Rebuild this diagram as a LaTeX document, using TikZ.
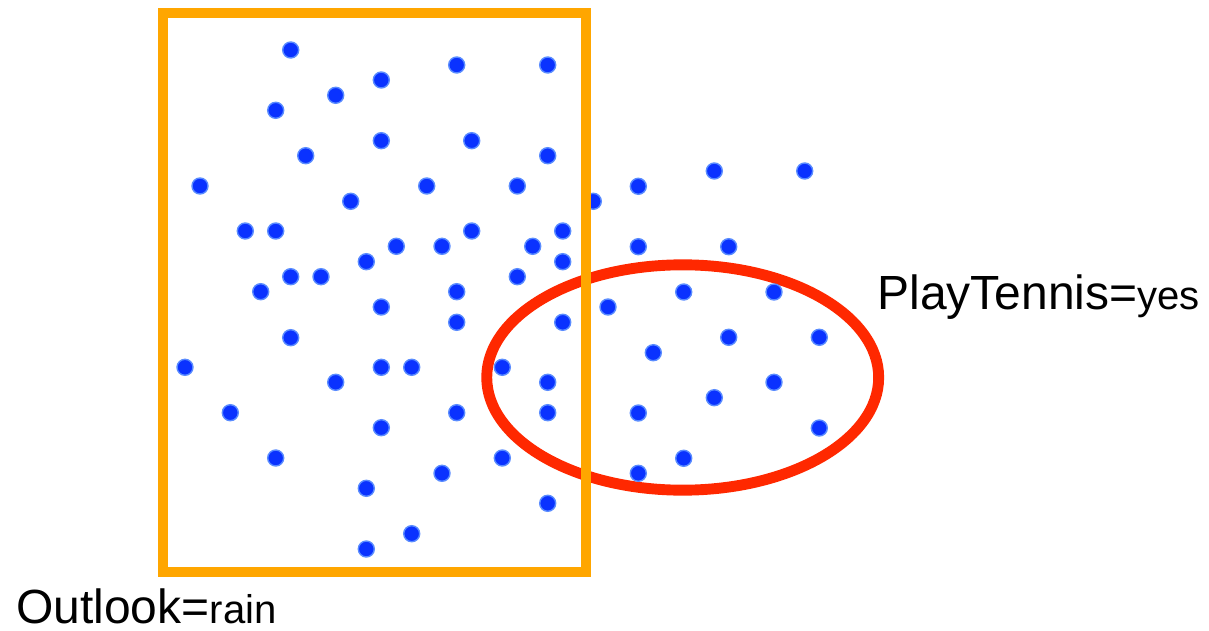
\documentclass[tikz,border=0pt]{standalone}
\usepackage{fontspec}
\setmainfont{Liberation Sans}
\usepackage{tikz}
\usetikzlibrary{positioning}
\definecolor{dotblue}{RGB}{10,50,255}
\definecolor{dotrim}{RGB}{90,140,255}
\definecolor{boxorange}{RGB}{255,166,0}
\definecolor{ringred}{RGB}{255,40,0}
\newcommand{\biglabel}{\fontsize{27.3}{31}\selectfont}
\newcommand{\smalllabel}{\fontsize{22.8}{26}\selectfont}

\begin{document}
\begin{tikzpicture}[x=0.02cm,y=-0.02cm,font=\biglabel,
    sample/.style={fill=dotblue,draw=dotrim,line width=0.8pt},
    attr/.style={anchor=base west,inner sep=0pt}]
  \useasboundingbox (0,0) rectangle (1209,631);
  % PlayTennis=yes region
  \draw[ringred,line width=6.2pt] (682.7,377.5) ellipse [x radius=3.92cm, y radius=2.254cm];
  % examples (1 px = 0.02 cm)
  \foreach \px/\py in {
    290.7/50, 456.7/65, 547.7/65, 381.3/80, 335.7/95.3, 275.7/110.3,
    381.3/140.7, 471.7/140.7, 305.7/155.7, 547.7/155.7, 200/186, 426.7/186,
    517.3/186, 350.7/201.3, 593.3/201.3, 245.3/231, 275.7/231, 471.7/231,
    562.7/231, 396.3/246.3, 442/246.3, 532.7/246.3, 366.3/261.7, 562.7/261.7,
    290.7/276.7, 321/276.7, 517.3/276.7, 260.7/291.7, 456.7/291.7, 381.3/307,
    456.7/322.3, 562.7/322.3, 290.7/337.7, 185/367.3, 381.3/367.3, 411.7/367.3,
    502.3/367.3, 335.7/382.3, 547.7/382.3, 230.3/412.7, 456.7/412.7, 547.7/412.7,
    381.3/427.7, 275.7/458, 502.3/458, 442/473.3, 366.3/488.3, 547.7/503.3,
    411.7/533.7, 366.3/549,
    714.3/171, 804.7/171, 638.3/186.3, 638.3/246.7, 728.7/246.7, 683.7/292,
    774/292, 608/307, 728.7/337.3, 819.3/337.3, 653.3/352.7, 774/382.3,
    714.3/397.7, 638.3/413, 819.3/428, 683.7/458.3, 638.3/473.3} {
    \draw[sample] (\px,\py) circle (0.16cm);
  }
  % Outlook=rain region
  \draw[boxorange,line width=6pt] (163,13) rectangle (586,572);
  \node[attr] (outlook) at (16,623) {Outlook={\smalllabel rain}};
  \node[attr] (tennis) at (877,310) {PlayTennis={\smalllabel yes}};
\end{tikzpicture}
\end{document}
